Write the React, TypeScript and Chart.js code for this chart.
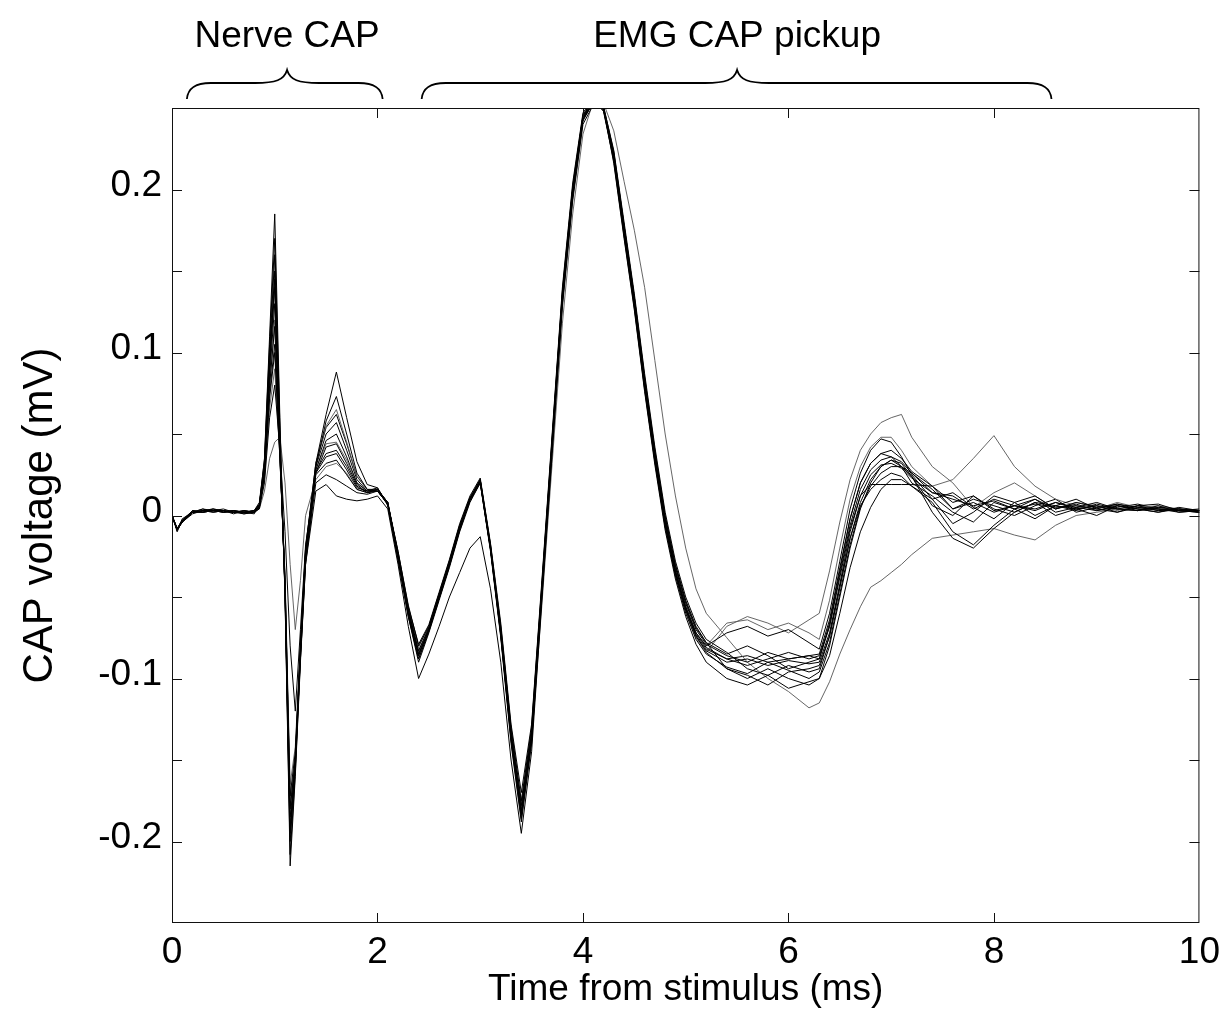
import { useEffect, useRef } from 'react';
import { Chart, registerables } from 'chart.js';

Chart.register(...registerables);

// ---- data (ms / mV) ----
const timeMs = [
  0, 0.05, 0.1, 0.2, 0.3, 0.4, 0.5, 0.6, 0.7, 0.8, 0.85,
  0.9, 0.95, 1.0, 1.05, 1.1, 1.15, 1.2, 1.25, 1.3, 1.4,
  1.5, 1.6, 1.7, 1.8, 1.9, 2.0, 2.1, 2.2, 2.3, 2.4,
  2.5, 2.6, 2.7, 2.8, 2.9, 3.0, 3.1, 3.2, 3.3, 3.4,
  3.5, 3.6, 3.7, 3.8, 3.9, 4.0, 4.1, 4.2, 4.3, 4.4,
  4.5, 4.6, 4.7, 4.8, 4.9, 5.0, 5.1, 5.2, 5.4, 5.6,
  5.8, 6.0, 6.2, 6.3, 6.4, 6.5, 6.6, 6.7, 6.8, 6.9,
  7.0, 7.1, 7.2, 7.4, 7.6, 7.8, 8.0, 8.2, 8.4, 8.6,
  8.8, 9.0, 9.2, 9.4, 9.6, 9.8, 10.0,
];

const traceA = [
  0.000, -0.009, -0.004, 0.002, 0.003, 0.004, 0.002, 0.003, 0.001, 0.002, 0.006,
  0.035, 0.110, 0.185, 0.060, -0.050, -0.215, -0.160, -0.090, -0.030, 0.025,
  0.032, 0.034, 0.025, 0.016, 0.014, 0.016, 0.008, -0.025, -0.058, -0.085,
  -0.070, -0.050, -0.030, -0.008, 0.010, 0.021, -0.020, -0.072, -0.135, -0.182,
  -0.135, -0.045, 0.045, 0.135, 0.200, 0.245, 0.255, 0.250, 0.220, 0.175,
  0.130, 0.080, 0.035, -0.005, -0.035, -0.058, -0.074, -0.083, -0.090, -0.088,
  -0.092, -0.089, -0.091, -0.090, -0.072, -0.042, -0.010, 0.012, 0.025, 0.031,
  0.032, 0.029, 0.023, 0.014, 0.010, 0.006, 0.009, 0.004, 0.007, 0.005,
  0.006, 0.004, 0.007, 0.005, 0.004, 0.003, 0.002,
];
const traceB = [
  0.000, -0.008, -0.003, 0.003, 0.002, 0.003, 0.003, 0.002, 0.002, 0.003, 0.007,
  0.030, 0.095, 0.150, 0.045, -0.045, -0.195, -0.150, -0.080, -0.020, 0.032,
  0.062, 0.088, 0.060, 0.033, 0.019, 0.017, 0.006, -0.028, -0.062, -0.090,
  -0.072, -0.052, -0.032, -0.010, 0.008, 0.020, -0.022, -0.075, -0.140, -0.188,
  -0.140, -0.050, 0.040, 0.130, 0.195, 0.242, 0.254, 0.250, 0.222, 0.178,
  0.134, 0.085, 0.040, 0.000, -0.030, -0.052, -0.068, -0.078, -0.085, -0.080,
  -0.086, -0.094, -0.090, -0.088, -0.066, -0.034, -0.002, 0.020, 0.032, 0.038,
  0.040, 0.035, 0.027, 0.018, 0.008, 0.012, 0.003, 0.006, 0.010, 0.004,
  0.008, 0.005, 0.006, 0.003, 0.005, 0.004, 0.003,
];
const traceC = [
  0.000, -0.009, -0.002, 0.002, 0.004, 0.002, 0.003, 0.001, 0.003, 0.002, 0.005,
  0.028, 0.085, 0.130, 0.040, -0.045, -0.185, -0.155, -0.085, -0.025, 0.030,
  0.058, 0.073, 0.050, 0.026, 0.016, 0.015, 0.007, -0.022, -0.055, -0.080,
  -0.068, -0.048, -0.028, -0.006, 0.011, 0.022, -0.018, -0.068, -0.130, -0.175,
  -0.130, -0.042, 0.048, 0.138, 0.202, 0.246, 0.255, 0.248, 0.218, 0.172,
  0.128, 0.078, 0.033, -0.007, -0.037, -0.060, -0.076, -0.085, -0.093, -0.097,
  -0.090, -0.095, -0.100, -0.096, -0.078, -0.048, -0.018, 0.005, 0.018, 0.026,
  0.030, 0.030, 0.026, 0.016, 0.004, 0.010, 0.006, 0.002, 0.008, 0.006,
  0.003, 0.007, 0.004, 0.006, 0.003, 0.004, 0.002,
];
const traceD = [
  0.000, -0.008, -0.004, 0.001, 0.003, 0.003, 0.002, 0.003, 0.002, 0.001, 0.006,
  0.026, 0.080, 0.116, 0.038, -0.040, -0.180, -0.150, -0.082, -0.022, 0.030,
  0.050, 0.057, 0.040, 0.022, 0.015, 0.016, 0.008, -0.024, -0.058, -0.083,
  -0.069, -0.049, -0.029, -0.007, 0.010, 0.021, -0.020, -0.071, -0.133, -0.178,
  -0.133, -0.044, 0.046, 0.136, 0.200, 0.244, 0.254, 0.250, 0.220, 0.174,
  0.130, 0.080, 0.036, -0.004, -0.034, -0.056, -0.072, -0.080, -0.072, -0.068,
  -0.074, -0.070, -0.078, -0.082, -0.060, -0.028, 0.004, 0.026, 0.040, 0.047,
  0.045, 0.036, 0.025, 0.010, -0.005, 0.002, 0.012, 0.008, 0.000, 0.006,
  0.010, 0.004, 0.002, 0.006, 0.007, 0.003, 0.004,
];
const traceE = [
  0.000, -0.010, -0.003, 0.003, 0.002, 0.004, 0.003, 0.002, 0.002, 0.003, 0.005,
  0.024, 0.072, 0.100, 0.035, -0.038, -0.172, -0.145, -0.080, -0.022, 0.028,
  0.046, 0.050, 0.036, 0.020, 0.015, 0.015, 0.007, -0.026, -0.062, -0.088,
  -0.071, -0.051, -0.031, -0.009, 0.009, 0.020, -0.021, -0.073, -0.137, -0.184,
  -0.137, -0.047, 0.043, 0.133, 0.198, 0.243, 0.253, 0.249, 0.221, 0.176,
  0.132, 0.082, 0.038, -0.002, -0.032, -0.054, -0.070, -0.079, -0.086, -0.090,
  -0.084, -0.088, -0.086, -0.085, -0.064, -0.032, -0.002, 0.020, 0.032, 0.038,
  0.036, 0.030, 0.020, 0.012, 0.002, -0.004, 0.008, 0.004, 0.010, 0.002,
  0.005, 0.008, 0.004, 0.003, 0.006, 0.002, 0.003,
];
const traceF = [
  0.000, -0.009, -0.004, 0.002, 0.003, 0.003, 0.004, 0.002, 0.001, 0.002, 0.004,
  0.020, 0.060, 0.080, 0.040, -0.010, -0.080, -0.120, -0.070, -0.018, 0.026,
  0.042, 0.044, 0.032, 0.019, 0.014, 0.015, 0.008, -0.022, -0.056, -0.079,
  -0.067, -0.047, -0.027, -0.005, 0.012, 0.023, -0.017, -0.066, -0.128, -0.170,
  -0.128, -0.040, 0.050, 0.140, 0.204, 0.247, 0.256, 0.250, 0.216, 0.170,
  0.126, 0.076, 0.031, -0.009, -0.039, -0.062, -0.079, -0.090, -0.100, -0.104,
  -0.098, -0.106, -0.102, -0.100, -0.086, -0.060, -0.032, -0.010, 0.005, 0.016,
  0.022, 0.022, 0.018, 0.008, -0.010, -0.018, -0.006, 0.004, -0.002, 0.006,
  0.004, 0.000, 0.006, 0.004, 0.002, 0.005, 0.003,
];
const traceG = [
  0.000, -0.008, -0.003, 0.002, 0.002, 0.003, 0.002, 0.003, 0.002, 0.002, 0.007,
  0.032, 0.100, 0.160, 0.050, -0.048, -0.200, -0.155, -0.085, -0.026, 0.026,
  0.036, 0.038, 0.028, 0.017, 0.015, 0.017, 0.007, -0.025, -0.060, -0.086,
  -0.070, -0.050, -0.030, -0.008, 0.010, 0.022, -0.019, -0.072, -0.136, -0.182,
  -0.136, -0.046, 0.044, 0.134, 0.199, 0.244, 0.254, 0.249, 0.219, 0.174,
  0.130, 0.080, 0.035, -0.005, -0.035, -0.057, -0.073, -0.082, -0.088, -0.092,
  -0.088, -0.084, -0.088, -0.086, -0.068, -0.038, -0.008, 0.012, 0.019, 0.019,
  0.019, 0.019, 0.019, 0.018, 0.004, 0.008, 0.002, 0.006, 0.004, 0.008,
  0.005, 0.003, 0.006, 0.004, 0.004, 0.002, 0.003,
];
const traceH = [
  0.000, -0.009, -0.003, 0.003, 0.003, 0.002, 0.003, 0.003, 0.002, 0.002, 0.004,
  0.015, 0.035, 0.045, 0.048, 0.020, -0.030, -0.070, -0.040, 0.000, 0.022,
  0.030, 0.032, 0.026, 0.016, 0.014, 0.015, 0.007, -0.024, -0.059, -0.084,
  -0.069, -0.049, -0.029, -0.007, 0.010, 0.021, -0.020, -0.071, -0.134, -0.180,
  -0.134, -0.045, 0.045, 0.135, 0.200, 0.245, 0.254, 0.250, 0.220, 0.175,
  0.131, 0.081, 0.036, -0.004, -0.034, -0.056, -0.072, -0.080, -0.066, -0.064,
  -0.070, -0.066, -0.072, -0.076, -0.052, -0.020, 0.010, 0.030, 0.042, 0.048,
  0.048, 0.040, 0.030, 0.018, 0.022, 0.035, 0.049, 0.030, 0.018, 0.010,
  0.006, 0.004, 0.008, 0.005, 0.006, 0.004, 0.003,
];
const traceI = [
  0.000, -0.008, -0.004, 0.002, 0.003, 0.003, 0.002, 0.002, 0.003, 0.002, 0.005,
  0.028, 0.090, 0.140, 0.042, -0.046, -0.195, -0.150, -0.088, -0.030, 0.015,
  0.019, 0.012, 0.010, 0.009, 0.010, 0.012, 0.004, -0.030, -0.068, -0.100,
  -0.085, -0.068, -0.050, -0.035, -0.020, -0.013, -0.045, -0.090, -0.150, -0.195,
  -0.145, -0.052, 0.038, 0.128, 0.193, 0.240, 0.252, 0.251, 0.224, 0.180,
  0.136, 0.087, 0.042, 0.002, -0.028, -0.050, -0.066, -0.076, -0.084, -0.094,
  -0.098, -0.092, -0.096, -0.094, -0.074, -0.044, -0.014, 0.006, 0.016, 0.022,
  0.026, 0.024, 0.018, 0.010, 0.014, 0.005, -0.002, 0.008, 0.012, 0.004,
  0.007, 0.003, 0.005, 0.007, 0.004, 0.003, 0.002,
];
const traceJ = [
  0.000, -0.009, -0.003, 0.002, 0.004, 0.003, 0.003, 0.002, 0.002, 0.003, 0.008,
  0.034, 0.105, 0.170, 0.055, -0.050, -0.208, -0.158, -0.088, -0.028, 0.020,
  0.025, 0.022, 0.018, 0.014, 0.013, 0.015, 0.007, -0.026, -0.061, -0.088,
  -0.071, -0.051, -0.031, -0.009, 0.009, 0.020, -0.021, -0.074, -0.138, -0.186,
  -0.138, -0.048, 0.042, 0.132, 0.197, 0.243, 0.253, 0.251, 0.223, 0.178,
  0.134, 0.084, 0.039, -0.001, -0.031, -0.053, -0.069, -0.078, -0.094, -0.100,
  -0.094, -0.100, -0.104, -0.100, -0.080, -0.050, -0.020, 0.004, 0.020, 0.030,
  0.034, 0.032, 0.024, 0.002, -0.014, -0.020, -0.008, 0.002, 0.008, 0.000,
  0.004, 0.006, 0.002, 0.005, 0.003, 0.004, 0.002,
];
const traceK = [
  0.000, -0.009, -0.004, 0.003, 0.002, 0.003, 0.003, 0.002, 0.002, 0.002, 0.005,
  0.025, 0.078, 0.120, 0.038, -0.042, -0.175, -0.148, -0.082, -0.024, 0.028,
  0.044, 0.045, 0.034, 0.020, 0.015, 0.016, 0.008, -0.024, -0.058, -0.083,
  -0.069, -0.049, -0.029, -0.007, 0.010, 0.021, -0.020, -0.070, -0.132, -0.178,
  -0.138, -0.055, 0.032, 0.118, 0.185, 0.234, 0.254, 0.253, 0.236, 0.205,
  0.175, 0.140, 0.095, 0.050, 0.012, -0.020, -0.045, -0.060, -0.075, -0.090,
  -0.100, -0.108, -0.118, -0.115, -0.102, -0.085, -0.070, -0.056, -0.044, -0.040,
  -0.035, -0.030, -0.024, -0.014, -0.012, -0.010, -0.008, -0.012, -0.015, -0.006,
  0.000, 0.002, 0.004, 0.003, 0.005, 0.003, 0.002,
];
const traceL = [
  0.000, -0.008, -0.003, 0.002, 0.003, 0.004, 0.003, 0.002, 0.002, 0.003, 0.006,
  0.022, 0.066, 0.090, 0.036, -0.036, -0.165, -0.142, -0.078, -0.020, 0.032,
  0.055, 0.065, 0.045, 0.024, 0.016, 0.016, 0.007, -0.023, -0.057, -0.081,
  -0.068, -0.048, -0.028, -0.006, 0.011, 0.022, -0.018, -0.069, -0.131, -0.176,
  -0.131, -0.043, 0.047, 0.137, 0.201, 0.245, 0.255, 0.248, 0.217, 0.171,
  0.127, 0.077, 0.033, -0.007, -0.037, -0.059, -0.075, -0.084, -0.068, -0.062,
  -0.066, -0.072, -0.064, -0.060, -0.034, -0.004, 0.022, 0.040, 0.050, 0.057,
  0.060, 0.062, 0.048, 0.030, 0.020, 0.005, 0.014, 0.020, 0.012, 0.004,
  0.008, 0.006, 0.003, 0.006, 0.004, 0.003, 0.003,
];
const traceM = [
  0.000, -0.009, -0.003, 0.002, 0.003, 0.002, 0.003, 0.003, 0.002, 0.002, 0.006,
  0.030, 0.092, 0.145, 0.044, -0.046, -0.192, -0.152, -0.083, -0.023, 0.032,
  0.054, 0.062, 0.044, 0.024, 0.016, 0.016, 0.007, -0.025, -0.059, -0.086,
  -0.070, -0.050, -0.030, -0.008, 0.010, 0.021, -0.020, -0.073, -0.136, -0.183,
  -0.136, -0.046, 0.044, 0.134, 0.199, 0.244, 0.254, 0.250, 0.221, 0.176,
  0.131, 0.081, 0.036, -0.004, -0.034, -0.056, -0.072, -0.081, -0.088, -0.086,
  -0.090, -0.088, -0.086, -0.088, -0.068, -0.036, -0.006, 0.016, 0.028, 0.034,
  0.036, 0.033, 0.026, 0.014, 0.012, 0.004, 0.010, 0.006, 0.003, 0.008,
  0.004, 0.006, 0.004, 0.003, 0.005, 0.003, 0.003,
];
const traceN = [
  0.000, -0.008, -0.004, 0.002, 0.002, 0.003, 0.003, 0.002, 0.003, 0.002, 0.005,
  0.025, 0.075, 0.105, 0.036, -0.040, -0.178, -0.150, -0.082, -0.024, 0.027,
  0.038, 0.040, 0.030, 0.018, 0.014, 0.016, 0.008, -0.024, -0.058, -0.084,
  -0.069, -0.049, -0.029, -0.007, 0.010, 0.021, -0.020, -0.071, -0.134, -0.181,
  -0.134, -0.045, 0.045, 0.135, 0.200, 0.245, 0.255, 0.249, 0.219, 0.173,
  0.129, 0.079, 0.034, -0.006, -0.036, -0.058, -0.074, -0.084, -0.094, -0.098,
  -0.104, -0.096, -0.094, -0.092, -0.074, -0.044, -0.014, 0.008, 0.022, 0.030,
  0.034, 0.030, 0.024, 0.006, 0.000, 0.012, 0.004, 0.000, 0.006, 0.010,
  0.002, 0.005, 0.007, 0.004, 0.002, 0.004, 0.003,
];

const traces = [
  traceA, traceB, traceC, traceD, traceE, traceF, traceG,
  traceH, traceI, traceJ, traceK, traceL, traceM, traceN,
];

const xTickValues = [0, 2, 4, 6, 8, 10];
const xTickLabels = ['0', '2', '4', '6', '8', '10'];
const yTickValues = [-0.2, -0.1, 0, 0.1, 0.2];
const yTickLabels = ['-0.2', '-0.1', '0', '0.1', '0.2'];
const yMinorTickValues = [-0.15, -0.05, 0.05, 0.15];

const braceLabels = ['Nerve CAP', 'EMG CAP pickup'];
const braceStartMs = [0.145, 2.43];
const braceTipMs = [1.12, 5.5];
const braceEndMs = [2.05, 8.56];

// ---- styles ----
const FONT = '"Liberation Sans", Arial, Helvetica, sans-serif';
const FONT_SIZE = 37;
const Y_TITLE_SIZE = 42;
const lightTraces = [7, 10, 11];

function drawBrace(ctx: CanvasRenderingContext2D, x1: number, xc: number, x2: number, yEnd: number, yBar: number, yTip: number) {
  const r = 24;
  const r2 = 32;
  ctx.beginPath();
  ctx.moveTo(x1, yEnd);
  ctx.bezierCurveTo(x1 + 1, yBar + 6, x1 + r * 0.3, yBar, x1 + r, yBar);
  ctx.lineTo(xc - r2, yBar);
  ctx.bezierCurveTo(xc - r2 * 0.35, yBar, xc - 3, yBar - 3, xc, yTip);
  ctx.bezierCurveTo(xc + 3, yBar - 3, xc + r2 * 0.35, yBar, xc + r2, yBar);
  ctx.lineTo(x2 - r, yBar);
  ctx.bezierCurveTo(x2 - r * 0.3, yBar, x2 - 1, yBar + 6, x2, yEnd);
  ctx.stroke();
}

const framePlugin = {
  id: 'framePlugin',
  afterDatasetsDraw(chart: any) {
    const { ctx, chartArea, scales } = chart;
    const { left, right, top, bottom } = chartArea;
    const x = scales.x;
    const y = scales.y;
    ctx.save();
    ctx.strokeStyle = '#111';
    ctx.lineWidth = 1;
    ctx.strokeRect(left + 0.5, top + 0.5, right - left - 1, bottom - top - 1);
    const L = 10;
    ctx.beginPath();
    [...yTickValues, ...yMinorTickValues].forEach((v) => {
      const py = Math.round(y.getPixelForValue(v)) + 0.5;
      ctx.moveTo(left, py);
      ctx.lineTo(left + L, py);
      ctx.moveTo(right, py);
      ctx.lineTo(right - L, py);
    });
    xTickValues.forEach((v, i) => {
      if (i === 0 || i === xTickValues.length - 1) return;
      const px = Math.round(x.getPixelForValue(v)) + 0.5;
      ctx.moveTo(px, bottom);
      ctx.lineTo(px, bottom - L);
      ctx.moveTo(px, top);
      ctx.lineTo(px, top + L);
    });
    ctx.stroke();

    ctx.lineWidth = 1.8;
    ctx.strokeStyle = '#000';
    ctx.fillStyle = '#000';
    ctx.font = `${FONT_SIZE}px ${FONT}`;
    ctx.textAlign = 'center';
    ctx.textBaseline = 'alphabetic';
    braceLabels.forEach((label, i) => {
      const x1 = x.getPixelForValue(braceStartMs[i]);
      const xc = x.getPixelForValue(braceTipMs[i]);
      const x2 = x.getPixelForValue(braceEndMs[i]);
      drawBrace(ctx, x1, xc, x2, top - 9, top - 25, top - 38);
      ctx.fillText(label, xc, top - 61);
    });
    ctx.restore();
  },
};

export default function App() {
  const canvasRef = useRef<HTMLCanvasElement | null>(null);

  useEffect(() => {
    document.body.style.margin = '0';
    const canvas = canvasRef.current;
    if (!canvas) return;
    Chart.defaults.font.family = FONT;
    const datasets = traces.map((vals, k) => ({
      label: `trace ${k + 1}`,
      data: timeMs.map((t, i) => ({ x: t, y: vals[i] })),
      borderColor: lightTraces.includes(k) ? '#555' : '#000',
      borderWidth: lightTraces.includes(k) ? 0.9 : 1,
      pointRadius: 0,
      fill: false,
      tension: 0,
      borderJoinStyle: 'round' as const,
    }));
    const chart = new Chart(canvas, {
      type: 'line',
      data: { datasets },
      plugins: [framePlugin],
      options: {
        responsive: false,
        animation: false,
        layout: { padding: { top: 108, right: 24, left: 0, bottom: 0 } },
        plugins: { legend: { display: false }, tooltip: { enabled: false } },
        scales: {
          x: {
            type: 'linear',
            min: 0,
            max: 10,
            grid: { display: false, drawTicks: false },
            border: { display: false },
            afterBuildTicks: (scale: any) => {
              scale.ticks = xTickValues.map((v) => ({ value: v }));
            },
            afterFit: (scale: any) => {
              scale.height = 92;
            },
            ticks: {
              autoSkip: false,
              maxRotation: 0,
              padding: 8,
              color: '#000',
              font: { size: FONT_SIZE, family: FONT },
              callback: (_v: any, i: number) => xTickLabels[i],
            },
            title: {
              display: true,
              text: 'Time from stimulus (ms)',
              color: '#000',
              font: { size: FONT_SIZE, family: FONT },
              padding: { top: 0, bottom: 3 },
            },
          },
          y: {
            type: 'linear',
            min: -0.25,
            max: 0.25,
            grid: { display: false, drawTicks: false },
            border: { display: false },
            afterBuildTicks: (scale: any) => {
              scale.ticks = yTickValues.map((v) => ({ value: v }));
            },
            afterFit: (scale: any) => {
              scale.width = 172;
            },
            ticks: {
              autoSkip: false,
              padding: 10,
              labelOffset: -4,
              color: '#000',
              font: { size: FONT_SIZE, family: FONT },
              callback: (_v: any, i: number) => yTickLabels[i],
            },
            title: {
              display: true,
              text: 'CAP voltage (mV)',
              color: '#000',
              font: { size: Y_TITLE_SIZE, family: FONT },
              padding: { top: 15, bottom: 0 },
            },
          },
        },
      },
    });
    return () => chart.destroy();
  }, []);

  return (
    <div style={{ width: 1228, height: 1015 }}>
      <canvas ref={canvasRef} width={1228} height={1015} style={{ width: 1228, height: 1015, display: 'block' }} />
    </div>
  );
}
